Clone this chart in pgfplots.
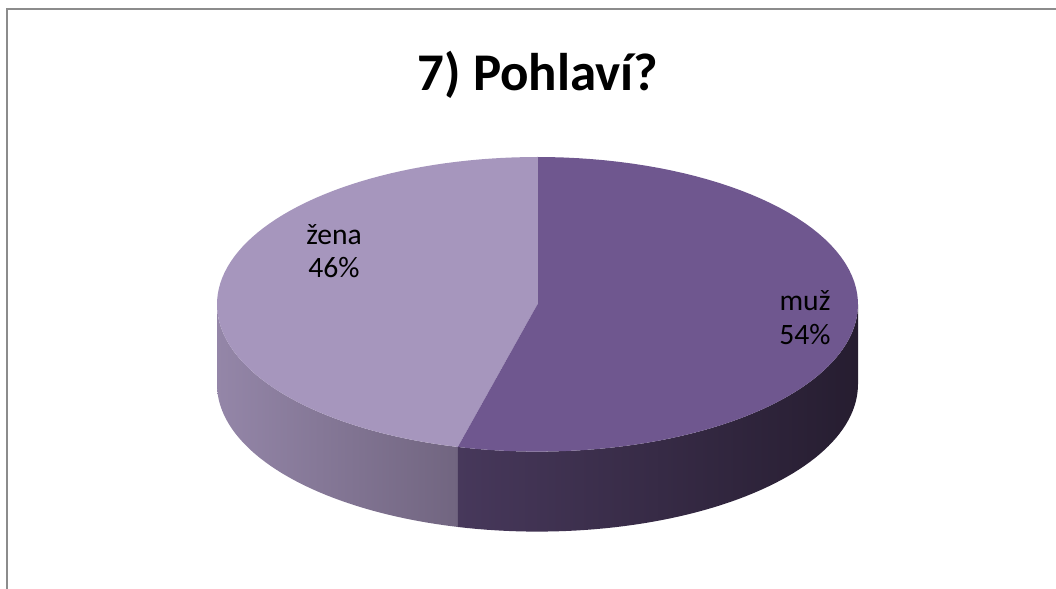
\documentclass[border=0pt]{standalone}
\usepackage{pgfplots}
\pgfplotsset{compat=1.18}
\usepackage{pgfplotstable}
\usepackage{fontspec}
\setmainfont{Carlito}

\definecolor{muzTop}{HTML}{6F578F}
\definecolor{muzSideL}{HTML}{47385B}
\definecolor{muzSideR}{HTML}{261D30}
\definecolor{zenaTop}{HTML}{A696BD}
\definecolor{zenaSideL}{HTML}{9486A8}
\definecolor{zenaSideR}{HTML}{716580}
\definecolor{frame}{HTML}{8C8C8C}

% podíly v procentech
\pgfplotstableread{
label value
muz 54
zena 46
}\piedata

\begin{document}
\begin{tikzpicture}
\pgfplotstablegetelem{0}{value}\of\piedata
\let\vmuz\pgfplotsretval
% geometrie v pixelech reference (y nahoru)
\def\cx{537.5}\def\cy{284.7}\def\a{320.5}\def\b{147.3}\def\d{80}
\pgfmathsetmacro\split{90-3.6*\vmuz}
\pgfmathsetmacro\splitb{\split+360}
\begin{axis}[
    hide axis, scale only axis,
    width=528pt, height=294.5pt,
    xmin=0, xmax=1056, ymin=0, ymax=589,
    clip=false,
]
\draw[frame, line width=1pt] (axis cs:7,0) -- (axis cs:7,580) -- (axis cs:1056,580);

% boky
\path[left color=zenaSideL, right color=zenaSideR]
  plot[domain=-180:\split, samples=60, variable=\t] ({\cx+\a*cos(\t)},{\cy+\b*sin(\t)})
  -- plot[domain=\split:-180, samples=60, variable=\t] ({\cx+\a*cos(\t)},{\cy-\d+\b*sin(\t)}) -- cycle;
\path[left color=muzSideL, right color=muzSideR]
  plot[domain=\split:0, samples=60, variable=\t] ({\cx+\a*cos(\t)},{\cy+\b*sin(\t)})
  -- plot[domain=0:\split, samples=60, variable=\t] ({\cx+\a*cos(\t)},{\cy-\d+\b*sin(\t)}) -- cycle;

% horni plochy
\fill[zenaTop] (axis cs:\cx,\cy)
  -- plot[domain=90:\splitb, samples=80, variable=\t] ({\cx+\a*cos(\t)},{\cy+\b*sin(\t)}) -- cycle;
\fill[muzTop] (axis cs:\cx,\cy)
  -- plot[domain=90:\split, samples=80, variable=\t] ({\cx+\a*cos(\t)},{\cy+\b*sin(\t)}) -- cycle;

% popisky
\node[anchor=base, font=\fontsize{14.8}{17}\selectfont] at (axis cs:334,344) {žena};
\node[anchor=base, font=\fontsize{14.8}{17}\selectfont] at (axis cs:334,311) {46\%};
\node[anchor=base, font=\fontsize{14.8}{17}\selectfont] at (axis cs:805,278) {muž};
\node[anchor=base, font=\fontsize{14.8}{17}\selectfont] at (axis cs:805,244) {54\%};

\node[anchor=base, font=\bfseries\fontsize{26.5}{31}\selectfont] at (axis cs:538,498) {7) Pohlaví?};
\end{axis}
\pgfresetboundingbox
\useasboundingbox (current axis.south west) rectangle (current axis.north east);
\end{tikzpicture}
\end{document}
